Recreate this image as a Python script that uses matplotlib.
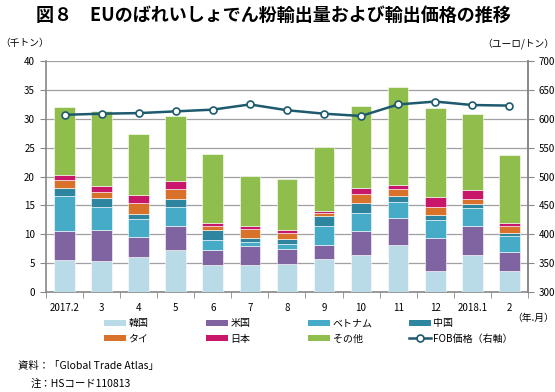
import matplotlib
matplotlib.use("Agg")
import matplotlib.pyplot as plt
import numpy as np

plt.rcParams['font.family'] = ['Noto Sans CJK JP', 'DejaVu Sans']

months = ["2017.2", "3", "4", "5", "6", "7", "8", "9", "10", "11", "12", "2018.1", "2"]

# export volume by destination (千トン)
korea = [5.6, 5.3, 6.0, 7.2, 4.7, 4.7, 4.9, 5.7, 6.5, 8.1, 3.7, 6.4, 3.6]
usa = [5.0, 5.5, 3.6, 4.3, 2.6, 3.3, 2.5, 2.5, 4.0, 4.8, 5.7, 5.0, 3.3]
vietnam = [6.1, 3.9, 3.1, 3.3, 1.8, 0.7, 0.9, 3.3, 3.2, 2.7, 3.0, 3.1, 2.8]
china = [1.4, 1.6, 0.8, 1.4, 1.6, 0.6, 0.9, 1.6, 1.8, 1.0, 1.0, 0.8, 0.6]
thai = [1.3, 1.1, 2.0, 1.7, 0.8, 1.7, 1.0, 0.6, 1.5, 1.2, 1.4, 0.9, 1.1]
japan = [0.9, 0.9, 1.3, 1.4, 0.4, 0.4, 0.6, 0.4, 1.0, 0.7, 1.6, 1.5, 0.6]
others = [11.7, 13.1, 10.6, 11.2, 12.1, 8.7, 8.8, 11.1, 14.2, 17.0, 15.5, 13.1, 11.8]

# FOB price (ユーロ/トン)
fob_price = [607, 609, 610, 613, 616, 625, 615, 609, 605, 625, 630, 624, 623]

series = [
    ("韓国", korea, "#b9dae7"),
    ("米国", usa, "#8064a2"),
    ("ベトナム", vietnam, "#46abc6"),
    ("中国", china, "#2e859f"),
    ("タイ", thai, "#d8722b"),
    ("日本", japan, "#c8176b"),
    ("その他", others, "#8fbe4c"),
]

fig = plt.figure(figsize=(5.55, 3.92), dpi=100)
ax = fig.add_axes([0.083, 0.255, 0.868, 0.589])
x = np.arange(len(months))

bottom = np.zeros(len(months))
handles = {}
for name, vals, col in series:
    b = ax.bar(x, vals, width=0.56, bottom=bottom, color=col,
               edgecolor="white", linewidth=0.4, zorder=3, label=name)
    handles[name] = b
    bottom += np.array(vals)

ax.set_xlim(-0.5, len(months) - 0.5)
ax.set_ylim(0, 40)
ax.set_yticks(np.arange(0, 41, 5))
ax.yaxis.grid(True, color="#a0a0a0", linewidth=0.9, zorder=0)
ax.set_xticks(x)
ax.set_xticklabels(months, fontsize=7)
ax.set_xticks(np.arange(-0.5, len(months), 1), minor=True)
ax.tick_params(axis="x", which="major", length=0, pad=8)
ax.tick_params(axis="x", which="minor", length=4, color="#888888", direction="out")
ax.tick_params(axis="y", length=4, color="#888888", labelsize=7, pad=4)
ax.spines["top"].set_visible(False)
for s in ["left", "right", "bottom"]:
    ax.spines[s].set_color("#888888")
    ax.spines[s].set_linewidth(1.2)

ax2 = ax.twinx()
ax2.set_ylim(300, 700)
ax2.set_yticks(np.arange(300, 701, 50))
ax2.tick_params(axis="y", length=4, color="#888888", labelsize=7, pad=4)
for s in ["top", "left", "bottom"]:
    ax2.spines[s].set_visible(False)
ax2.spines["right"].set_color("#888888")
ax2.spines["right"].set_linewidth(1.2)
line, = ax2.plot(x, fob_price, color="#1d5a6d", linewidth=1.8, marker="o",
                 markersize=5, markerfacecolor="white", markeredgecolor="#1d5a6d",
                 markeredgewidth=1.2, zorder=5, label="FOB価格（右軸）")

# legend: four columns of two rows each, placed separately
cols = [
    ([handles["韓国"], handles["タイ"]], ["韓国", "タイ"], 104),
    ([handles["米国"], handles["日本"]], ["米国", "日本"], 206),
    ([handles["ベトナム"], handles["その他"]], ["ベトナム", "その他"], 308),
    ([handles["中国"], line], ["中国", "FOB価格（右軸）"], 409),
]
for hs, ls, px in cols:
    leg = fig.legend(hs, ls, loc="upper left", bbox_to_anchor=(px / 555, 0.188),
                     frameon=False, fontsize=7.2, handlelength=2.2, handleheight=0.6,
                     handletextpad=0.25, labelspacing=0.55, borderpad=0, borderaxespad=0)
    for p in leg.get_patches():
        p.set_edgecolor("none")

fig.text(0.065, 0.985, "図８　EUのばれいしょでん粉輸出量および輸出価格の推移",
         fontsize=13, fontweight="bold", va="top", ha="left")
fig.text(0.0, 0.89, "（千トン）", fontsize=7, va="center", ha="left")
fig.text(0.998, 0.89, "（ユーロ/トン）", fontsize=7, va="center", ha="right")
fig.text(0.998, 0.19, "（年.月）", fontsize=7, va="center", ha="right")
fig.text(0.032, 0.066, "資料：「Global Trade Atlas」", fontsize=7.5, va="center", ha="left")
fig.text(0.055, 0.02, "注：HSコード110813", fontsize=7.5, va="center", ha="left")

fig.savefig("out.png", dpi=100)
